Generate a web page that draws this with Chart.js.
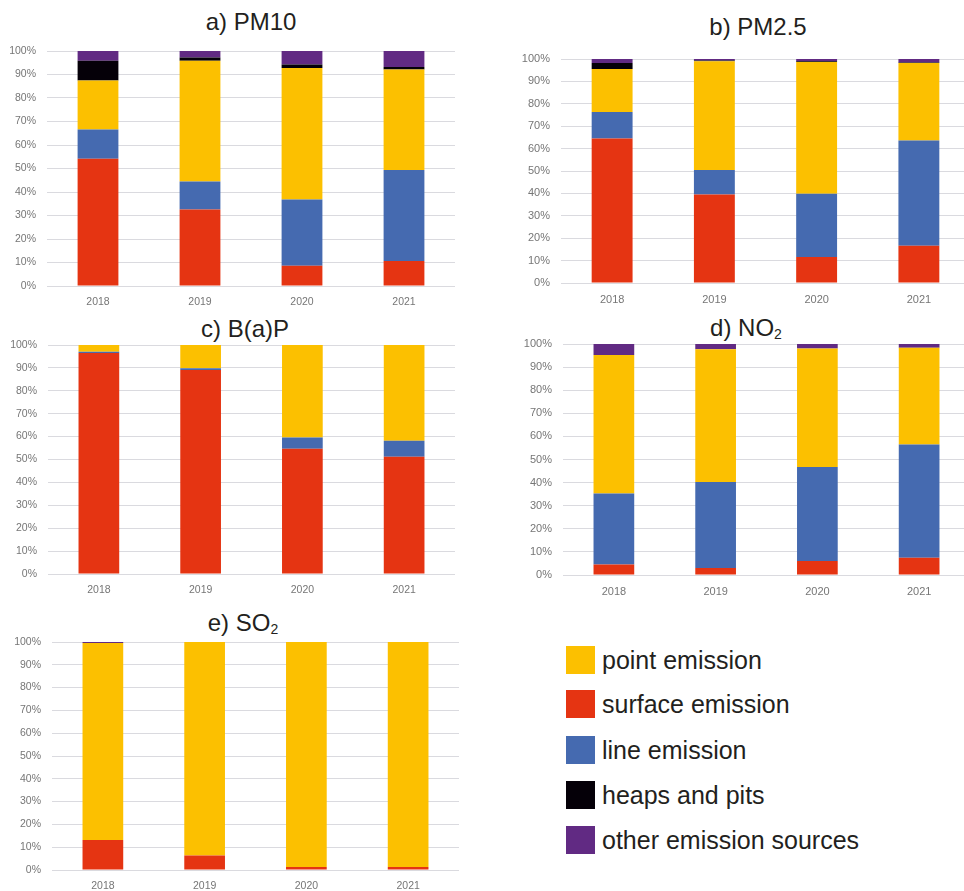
<!DOCTYPE html>
<html>
<head>
<meta charset="utf-8">
<script src="https://cdn.jsdelivr.net/npm/chart.js@4.4.0/dist/chart.umd.min.js"></script>
<style>
  html, body { margin: 0; padding: 0; background: #ffffff; }
  body { position: relative; width: 964px; height: 891px; overflow: hidden;
         font-family: "Liberation Sans", Arial, sans-serif; }
  canvas { position: absolute; }
  .title { position: absolute; font-size: 24px; line-height: 24px; color: #231f20;
           white-space: nowrap; transform: translateX(-50%); }
  .title sub { font-size: 14px; line-height: 0; vertical-align: -3px; }
  .legend-item { position: absolute; left: 566px; height: 28px; display: flex; align-items: center; }
  .legend-box { width: 29px; height: 28px; margin-right: 7px; box-sizing: border-box; }
  .legend-text { font-size: 25px; color: #231f20; white-space: nowrap; }
</style>
</head>
<body>
<div class="title" style="left:251px; top:10px;">a) PM10</div>
<div class="title" style="left:758px; top:15px;">b) PM2.5</div>
<div class="title" style="left:245px; top:317px;">c) B(a)P</div>
<div class="title" style="left:746px; top:316px;">d) NO<sub>2</sub></div>
<div class="title" style="left:243px; top:611px;">e) SO<sub>2</sub></div>

<canvas id="pm10"></canvas>
<canvas id="pm25"></canvas>
<canvas id="bap"></canvas>
<canvas id="no2"></canvas>
<canvas id="so2"></canvas>

<script>
// Years on the category axis
const years = ['2018', '2019', '2020', '2021'];

// Source categories, in stacking order (bottom to top)
const sourceNames = ['surface emission', 'line emission', 'point emission', 'heaps and pits', 'other emission sources'];
const sourceColors = ['#e53412', '#456ab0', '#fcc000', '#050008', '#612a83'];

// Legend order
const legendOrder = ['point emission', 'surface emission', 'line emission', 'heaps and pits', 'other emission sources'];

// Share of emissions by source (%)
const pm10Surface = [54.2, 32.6, 8.6, 10.6];
const pm10Line    = [12.4, 11.9, 28.2, 38.8];
const pm10Point   = [20.8, 51.4, 56.0, 42.7];
const pm10Heaps   = [8.5, 1.3, 1.5, 1.1];
const pm10Other   = [4.1, 2.8, 5.7, 6.8];

const pm25Surface = [64.5, 39.5, 11.6, 16.6];
const pm25Line    = [11.8, 10.9, 28.2, 47.0];
const pm25Point   = [19.2, 48.6, 58.9, 34.6];
const pm25Heaps   = [2.7, 0.3, 0.3, 0.2];
const pm25Other   = [1.8, 0.7, 1.0, 1.6];

const bapSurface = [96.5, 89.1, 54.7, 51.2];
const bapLine    = [0.6, 0.8, 4.9, 7.0];
const bapPoint   = [2.9, 10.1, 40.4, 41.8];
const bapHeaps   = [0, 0, 0, 0];
const bapOther   = [0, 0, 0, 0];

const no2Surface = [4.5, 3.0, 6.1, 7.5];
const no2Line    = [30.8, 37.3, 40.7, 49.0];
const no2Point   = [59.9, 57.4, 51.2, 41.9];
const no2Heaps   = [0, 0, 0, 0];
const no2Other   = [4.8, 2.3, 2.0, 1.6];

const so2Surface = [13.2, 6.4, 1.3, 1.3];
const so2Line    = [0, 0, 0, 0];
const so2Point   = [86.4, 93.6, 98.7, 98.7];
const so2Heaps   = [0, 0, 0, 0];
const so2Other   = [0.4, 0, 0, 0];

// Y-axis ticks
const yMax = 100;
const yStep = 10;

// Build one stacked percentage chart; `canvasBox` places the canvas, `area` the plot area (page px)
function makePanel(id, canvasBox, area, series, tickSize) {
  const cv = document.getElementById(id);
  cv.width = canvasBox.w;
  cv.height = canvasBox.h;
  cv.style.left = canvasBox.x + 'px';
  cv.style.top = canvasBox.y + 'px';

  // plot area in canvas coordinates
  const want = {
    left: area.left - canvasBox.x,
    right: area.right - canvasBox.x,
    top: area.top - canvasBox.y,
    bottom: area.bottom - canvasBox.y
  };

  return new Chart(cv, {
    type: 'bar',
    data: {
      labels: years,
      datasets: series.map((vals, i) => ({
        label: sourceNames[i],
        data: vals,
        backgroundColor: sourceColors[i],
        borderWidth: 0,
        categoryPercentage: 1.0,
        barPercentage: 0.4
      }))
    },
    options: {
      responsive: false,
      animation: false,
      devicePixelRatio: 1,
      layout: {
        padding: { top: want.top, right: canvasBox.w - want.right, left: 0, bottom: 0 }
      },
      plugins: { legend: { display: false }, tooltip: { enabled: false }, title: { display: false } },
      scales: {
        x: {
          stacked: true,
          grid: { display: false, drawTicks: false },
          border: { display: false },
          ticks: { color: '#767676', font: { family: 'Liberation Sans', size: tickSize }, padding: 10 },
          afterFit: (s) => { s.height = canvasBox.h - want.bottom; }
        },
        y: {
          stacked: true,
          min: 0,
          max: yMax,
          grid: { color: '#dadadf', lineWidth: 1, drawTicks: false },
          border: { display: false },
          ticks: {
            stepSize: yStep,
            color: '#767676',
            font: { family: 'Liberation Sans', size: tickSize },
            padding: 11,
            callback: (v) => v + '%'
          },
          afterFit: (s) => {
            // fixed axis width; the layout padding alone sets the top edge
            s.width = want.left;
            s.paddingTop = 0;
            s.paddingBottom = 0;
          }
        }
      }
    }
  });
}

makePanel('pm10', { x: 0, y: 40, w: 480, h: 275 },
  { left: 47, right: 455, top: 51, bottom: 286 },
  [pm10Surface, pm10Line, pm10Point, pm10Heaps, pm10Other], 10.5);

makePanel('pm25', { x: 490, y: 45, w: 490, h: 270 },
  { left: 561, right: 970, top: 59, bottom: 283 },
  [pm25Surface, pm25Line, pm25Point, pm25Heaps, pm25Other], 11);

makePanel('bap', { x: 0, y: 330, w: 480, h: 275 },
  { left: 48, right: 455, top: 345, bottom: 574 },
  [bapSurface, bapLine, bapPoint, bapHeaps, bapOther], 10.5);

makePanel('no2', { x: 490, y: 330, w: 490, h: 275 },
  { left: 563, right: 970, top: 344, bottom: 575 },
  [no2Surface, no2Line, no2Point, no2Heaps, no2Other], 11);

makePanel('so2', { x: 0, y: 630, w: 480, h: 275 },
  { left: 52, right: 459, top: 642, bottom: 870 },
  [so2Surface, so2Line, so2Point, so2Heaps, so2Other], 10.5);

// Shared legend
const legendTops = [646, 690, 736, 781, 826];
legendOrder.forEach((name, i) => {
  const idx = sourceNames.indexOf(name);
  const item = document.createElement('div');
  item.className = 'legend-item';
  item.style.top = legendTops[i] + 'px';
  const box = document.createElement('div');
  box.className = 'legend-box';
  box.style.background = sourceColors[idx];
  const txt = document.createElement('span');
  txt.className = 'legend-text';
  txt.textContent = name;
  item.appendChild(box);
  item.appendChild(txt);
  document.body.appendChild(item);
});
</script>
</body>
</html>
